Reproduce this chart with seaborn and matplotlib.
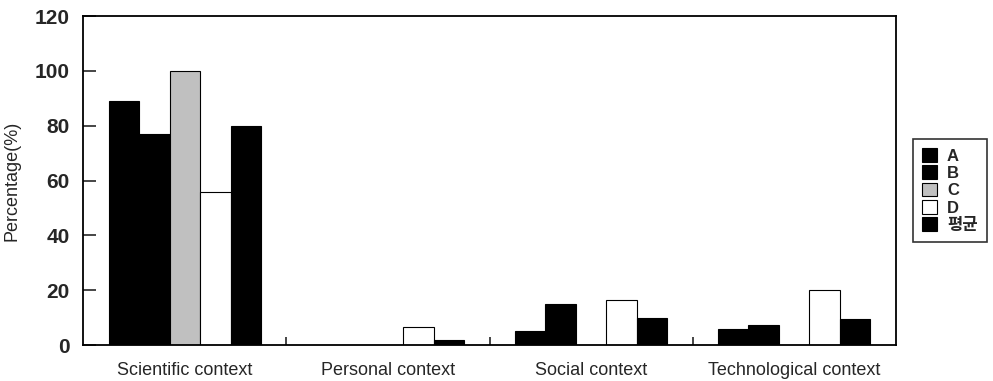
import matplotlib
matplotlib.use('Agg')
import matplotlib.pyplot as plt
import seaborn as sns
import pandas as pd

# Data
contexts = ['Scientific context', 'Personal context', 'Social context', 'Technological context']
groups = ['A', 'B', 'C', 'D', '평균']
a_vals = [89, 0, 5, 6]
b_vals = [77, 0, 15, 7.5]
c_vals = [100, 0, 0, 0]
d_vals = [56, 6.5, 16.5, 20]
avg_vals = [80, 2, 10, 9.5]

rows = []
for g, vals in zip(groups, [a_vals, b_vals, c_vals, d_vals, avg_vals]):
    for ctx, v in zip(contexts, vals):
        rows.append({'context': ctx, 'group': g, 'value': v})
df = pd.DataFrame(rows)

sns.set_style('ticks')
plt.rcParams['font.family'] = ['Liberation Sans', 'Noto Sans CJK KR']

palette = {'A': 'black', 'B': 'black', 'C': '#c0c0c0', 'D': 'white', '평균': 'black'}

fig = plt.figure(figsize=(9.93, 3.81), dpi=100)
ax = fig.add_axes([0.084, 0.094, 0.818, 0.864])
sns.barplot(data=df, x='context', y='value', hue='group', order=contexts,
            hue_order=groups, palette=palette, width=0.75, saturation=1,
            edgecolor='black', linewidth=0.8, ax=ax)

ax.set_ylim(0, 120)
ax.set_xlim(-0.5, 3.5)
ax.set_yticks(range(0, 121, 20))
ax.set_ylabel('Percentage(%)', fontsize=13, labelpad=10)
ax.set_xlabel('')
ax.tick_params(axis='y', direction='in', length=9, width=1.2, labelsize=15, pad=10)
for t in ax.get_yticklabels():
    t.set_fontweight('bold')
ax.set_xticks(range(len(contexts)))
ax.set_xticklabels(contexts, fontsize=13)
ax.tick_params(axis='x', length=0, pad=12)
ax.set_xticks([0.5, 1.5, 2.5], minor=True)
ax.tick_params(axis='x', which='minor', direction='in', length=6, width=1.2)
for s in ax.spines.values():
    s.set_linewidth(1.3)
    s.set_color('black')

leg = ax.legend(loc='center left', bbox_to_anchor=(1.021, 0.47), frameon=True,
                prop={'size': 12, 'weight': 'bold'}, handlelength=0.9, handleheight=0.9,
                handletextpad=0.6, labelspacing=0.1, borderpad=0.25, borderaxespad=0.3)
leg.get_frame().set_edgecolor('black')
leg.get_frame().set_linewidth(1.2)
leg.get_frame().set_boxstyle('square')

fig.savefig('out.png', dpi=100)
